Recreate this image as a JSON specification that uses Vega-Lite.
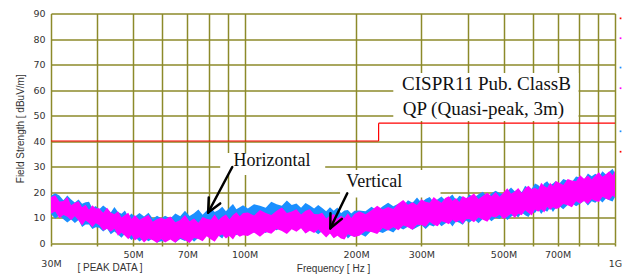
{
"$schema":"https://vega.github.io/schema/vega-lite/v6.json",
"width":564,"height":229.5,
"autosize":{"type":"none"},
"padding":{"left":51,"top":13.5,"right":12,"bottom":33},
"background":"white",
"config":{"view":{"stroke":null},"axis":{"labelFont":"DejaVu Sans","labelFontSize":9.5,"labelColor":"#333333","titleFont":"Liberation Sans","titleFontSize":10,"titleFontWeight":"normal","titleColor":"#333333"}},
"datasets":{
"boxes":[{"f":252,"f2":797,"v":66.7,"v2":47.8},{"f":85.9,"f2":165,"v":35.3,"v2":26.7},{"f":181,"f2":338,"v":28.6,"v2":17.8}],
"limit":[{"f":30,"f2":230,"v":40,"v2":40},{"f":230,"f2":230,"v":40,"v2":47},{"f":230,"f2":1000,"v":47,"v2":47}],
"arrows":[{"f":92.6,"f2":79.7,"v":29.8,"v2":11.96},{"f":85.9,"f2":79.7,"v":15.53,"v2":11.96},{"f":80.0,"f2":79.7,"v":17.84,"v2":11.96},{"f":189.3,"f2":170.3,"v":19.5,"v2":5.76},{"f":183.0,"f2":170.3,"v":9.45,"v2":5.76},{"f":170.5,"f2":170.3,"v":11.65,"v2":5.76}],
"labels18":[{"t":"Horizontal","f":118.5,"v":32.2},{"t":"Vertical","f":223.9,"v":23.9}],
"labels19":[{"t":"CISPR11 Pub. ClassB","f":449.8,"v":62.4},{"t":"QP (Quasi-peak, 3m)","f":441.3,"v":52.5}],
"notes":[{"t":"[ PEAK DATA ]","f":43.3,"v":-9.8}],
"dots":[{"s":"L","f":1035,"v":88.1},{"s":"V","f":1035,"v":80.3},{"s":"H","f":1035,"v":68.8},{"s":"V","f":1035,"v":60.7},{"s":"H","f":1035,"v":43.8},{"s":"L","f":1035,"v":35.8}],
"H":[
{"f":30,"v":11.4,"v2":18.5},{"f":30.8,"v":9.5,"v2":19.5},{"f":31.6,"v":10.8,"v2":18.6},{"f":32.4,"v":9.3,"v2":16.8},{"f":33.2,"v":8,"v2":18.6},{"f":34,"v":9.2,"v2":17.1},{"f":34.8,"v":7.8,"v2":15.9},{"f":35.6,"v":9,"v2":17.1},{"f":36.4,"v":6.3,"v2":15.4},{"f":37.2,"v":7.3,"v2":16},{"f":38,"v":7.3,"v2":16.2},{"f":38.8,"v":5.5,"v2":13.6},{"f":39.6,"v":6.2,"v2":14.5},
{"f":40.5,"v":6,"v2":13.2},{"f":41.5,"v":4.5,"v2":14.7},{"f":42.5,"v":5.7,"v2":13.5},{"f":43.5,"v":3.4,"v2":12},{"f":44.5,"v":4.5,"v2":14.1},{"f":45.5,"v":3.3,"v2":12.2},{"f":46.5,"v":2.1,"v2":11.5},{"f":47.5,"v":3.6,"v2":12.7},{"f":48.5,"v":2.4,"v2":10.3},{"f":49.5,"v":1.2,"v2":11.6},
{"f":50.5,"v":2.5,"v2":10.3},{"f":52,"v":0.6,"v2":11.8},{"f":53.5,"v":1.9,"v2":10.4},{"f":55,"v":0.7,"v2":11.9},{"f":56.5,"v":1.9,"v2":9.5},{"f":58,"v":0.2,"v2":10.7},{"f":59.5,"v":0.7,"v2":9.7},
{"f":61,"v":0.6,"v2":10.7},{"f":63,"v":1.7,"v2":9.6},{"f":65,"v":0.2,"v2":11.6},{"f":67,"v":1.6,"v2":10.5},{"f":69,"v":0.8,"v2":12.6},{"f":71,"v":2.4,"v2":10.6},{"f":73,"v":0.5,"v2":11.7},{"f":75,"v":2.1,"v2":13.1},{"f":77,"v":1.7,"v2":11.1},{"f":79,"v":3.3,"v2":12.7},{"f":81,"v":1.5,"v2":14},{"f":83,"v":3.2,"v2":12.2},{"f":85,"v":2.8,"v2":12.9},{"f":87,"v":1.8,"v2":14.2},{"f":89,"v":4.1,"v2":12.5},{"f":91,"v":3,"v2":13.9},{"f":93,"v":4,"v2":15.3},{"f":95,"v":3,"v2":13.2},{"f":97,"v":4.7,"v2":14},{"f":99,"v":4.2,"v2":14.8},
{"f":102,"v":5.4,"v2":13.5},{"f":106,"v":4,"v2":15.2},{"f":110,"v":5.2,"v2":14.6},{"f":114,"v":3.9,"v2":13.8},{"f":118,"v":5.6,"v2":16.2},{"f":122,"v":5,"v2":15.2},{"f":126,"v":6.2,"v2":14.6},{"f":130,"v":4.5,"v2":16.7},{"f":134,"v":5.6,"v2":14.9},{"f":138,"v":4.8,"v2":15.5},{"f":142,"v":6.2,"v2":13.8},{"f":146,"v":3.8,"v2":15.7},{"f":150,"v":5.3,"v2":14.7},{"f":154,"v":4.6,"v2":13.5},{"f":158,"v":3.4,"v2":14.9},{"f":162,"v":4.7,"v2":13.7},{"f":166,"v":3.2,"v2":12.5},{"f":170,"v":3.9,"v2":14},{"f":174,"v":2.1,"v2":12.6},{"f":178,"v":3.5,"v2":13.9},{"f":182,"v":2.5,"v2":11.7},{"f":186,"v":3.7,"v2":12.7},{"f":190,"v":1.8,"v2":12.9},{"f":194,"v":3,"v2":11.6},{"f":198,"v":2.4,"v2":12.6},
{"f":204,"v":3.7,"v2":12.7},{"f":212,"v":2.5,"v2":12.5},{"f":220,"v":4.8,"v2":14.2},{"f":228,"v":4.7,"v2":12.7},{"f":236,"v":3.9,"v2":14.4},{"f":244,"v":5.1,"v2":15.8},{"f":252,"v":4.1,"v2":14.4},{"f":260,"v":6.3,"v2":15.4},{"f":268,"v":5.3,"v2":14.4},{"f":276,"v":6.4,"v2":16.8},{"f":284,"v":5.2,"v2":15.8},{"f":292,"v":6.2,"v2":17.8},{"f":300,"v":7.1,"v2":15.8},{"f":308,"v":5.5,"v2":17.3},{"f":316,"v":7.1,"v2":18},{"f":324,"v":6.5,"v2":16},{"f":332,"v":8.1,"v2":17.2},{"f":340,"v":6.6,"v2":18.2},{"f":348,"v":7.6,"v2":16.8},{"f":356,"v":8.3,"v2":17.8},{"f":364,"v":6.5,"v2":19},{"f":372,"v":8.4,"v2":16.9},{"f":380,"v":7.9,"v2":18.5},{"f":388,"v":7.2,"v2":17.9},{"f":396,"v":8.8,"v2":17.1},
{"f":404,"v":7.9,"v2":19.1},{"f":416,"v":9.4,"v2":17.7},{"f":428,"v":7.7,"v2":19.1},{"f":440,"v":9.5,"v2":20.1},{"f":452,"v":10,"v2":18},{"f":464,"v":8.5,"v2":19.5},{"f":476,"v":9.9,"v2":20.5},{"f":488,"v":9.4,"v2":19.6},{"f":500,"v":10.9,"v2":19.2},{"f":512,"v":9,"v2":20.3},{"f":524,"v":10.3,"v2":21.8},{"f":536,"v":11.2,"v2":20.3},{"f":548,"v":10,"v2":21.2},{"f":560,"v":12,"v2":19.9},{"f":572,"v":10.9,"v2":22.5},{"f":584,"v":10.2,"v2":21.5},{"f":596,"v":12.3,"v2":21.3},{"f":608,"v":11.8,"v2":23.3},{"f":620,"v":13.3,"v2":22.7},{"f":632,"v":11.4,"v2":21.6},{"f":644,"v":12.9,"v2":23.4},{"f":656,"v":12.3,"v2":24.2},{"f":668,"v":13.9,"v2":22.6},{"f":680,"v":12.2,"v2":23.3},{"f":692,"v":13.8,"v2":24.3},
{"f":705,"v":14.6,"v2":23},{"f":725,"v":13.2,"v2":25.1},{"f":745,"v":14.9,"v2":24.4},{"f":765,"v":15.6,"v2":23.9},{"f":785,"v":14.4,"v2":26.1},{"f":805,"v":15.4,"v2":25.7},{"f":825,"v":16.6,"v2":24.8},{"f":845,"v":14.7,"v2":27.3},{"f":865,"v":16.4,"v2":26.2},{"f":885,"v":15.8,"v2":27.2},{"f":905,"v":17.2,"v2":26.1},{"f":925,"v":15.9,"v2":28.1},{"f":945,"v":17.5,"v2":26.9},{"f":965,"v":16.8,"v2":27.9},{"f":985,"v":16.3,"v2":29.1},{"f":1000,"v":18,"v2":27.3}
],
"V":[
{"f":30,"v":11.5,"v2":18},{"f":30.8,"v":12.4,"v2":18.7},{"f":31.6,"v":9.7,"v2":16.3},{"f":32.4,"v":11,"v2":16.5},{"f":33.2,"v":10.3,"v2":18},{"f":34,"v":8.9,"v2":14.8},{"f":34.8,"v":10.5,"v2":15.8},{"f":35.6,"v":8.8,"v2":16.4},{"f":36.4,"v":6.9,"v2":14},{"f":37.2,"v":8.8,"v2":15},{"f":38,"v":7.8,"v2":13},{"f":38.8,"v":6.2,"v2":14.8},{"f":39.6,"v":7.7,"v2":13.5},
{"f":40.5,"v":7,"v2":13.6},{"f":41.5,"v":4.9,"v2":11.9},{"f":42.5,"v":5.6,"v2":13.8},{"f":43.5,"v":4.4,"v2":12},{"f":44.5,"v":5.6,"v2":11.3},{"f":45.5,"v":2.8,"v2":12.5},{"f":46.5,"v":4,"v2":10},{"f":47.5,"v":2.8,"v2":11},{"f":48.5,"v":1.5,"v2":11.9},{"f":49.5,"v":3.1,"v2":9.4},
{"f":50.5,"v":1,"v2":11},{"f":52,"v":2.3,"v2":9.1},{"f":53.5,"v":0.2,"v2":10.1},{"f":55,"v":1.8,"v2":11},{"f":56.5,"v":1.1,"v2":8.3},{"f":58,"v":0,"v2":9.4},{"f":59.5,"v":1.6,"v2":9.9},
{"f":61,"v":0.2,"v2":9.3},{"f":63,"v":1.4,"v2":10.4},{"f":65,"v":0.1,"v2":8.1},{"f":67,"v":2,"v2":9},{"f":69,"v":1.1,"v2":11},{"f":71,"v":0,"v2":8.5},{"f":73,"v":2,"v2":9.6},{"f":75,"v":1.6,"v2":7.9},{"f":77,"v":0.7,"v2":10.2},{"f":79,"v":2.6,"v2":9.5},{"f":81,"v":1.5,"v2":9.1},{"f":83,"v":0.5,"v2":11.2},{"f":85,"v":2.6,"v2":9},{"f":87,"v":3.3,"v2":10.3},{"f":89,"v":1.8,"v2":11.2},{"f":91,"v":2.7,"v2":9.3},{"f":93,"v":1.4,"v2":11},{"f":95,"v":3.4,"v2":12.1},{"f":97,"v":2.5,"v2":10.5},{"f":99,"v":3,"v2":11.8},
{"f":102,"v":2.7,"v2":12},{"f":106,"v":4.1,"v2":10.8},{"f":110,"v":2.5,"v2":12.9},{"f":114,"v":4.3,"v2":11.8},{"f":118,"v":3.6,"v2":11},{"f":122,"v":5.5,"v2":12.6},{"f":126,"v":4.7,"v2":13.9},{"f":130,"v":3.5,"v2":11.8},{"f":134,"v":5.4,"v2":12.4},{"f":138,"v":4.4,"v2":13.2},{"f":142,"v":5.8,"v2":11.2},{"f":146,"v":3.7,"v2":12.6},{"f":150,"v":4.8,"v2":13.2},{"f":154,"v":3.9,"v2":11.4},{"f":158,"v":5.3,"v2":11.3},{"f":162,"v":3.7,"v2":11.9},{"f":166,"v":2.2,"v2":9.6},{"f":170,"v":3.7,"v2":10.7},{"f":174,"v":1.9,"v2":11.4},{"f":178,"v":2.8,"v2":9.5},{"f":182,"v":1.8,"v2":10.7},{"f":186,"v":1.4,"v2":9.8},{"f":190,"v":3.4,"v2":11.7},{"f":194,"v":2.8,"v2":9.8},{"f":198,"v":2.4,"v2":11.4},
{"f":204,"v":2.8,"v2":12.5},{"f":212,"v":4.6,"v2":11.3},{"f":220,"v":4.3,"v2":12.8},{"f":228,"v":3.5,"v2":14.6},{"f":236,"v":5.9,"v2":13.1},{"f":244,"v":4.9,"v2":14.1},{"f":252,"v":6.2,"v2":13.3},{"f":260,"v":5,"v2":15.5},{"f":268,"v":6.9,"v2":16.9},{"f":276,"v":6.2,"v2":15},{"f":284,"v":5.2,"v2":16},{"f":292,"v":7.2,"v2":14.9},{"f":300,"v":7.1,"v2":17.2},{"f":308,"v":6.4,"v2":16.2},{"f":316,"v":8.2,"v2":15.8},{"f":324,"v":7.2,"v2":18},{"f":332,"v":6.6,"v2":16.8},{"f":340,"v":8.5,"v2":15.8},{"f":348,"v":8,"v2":17.6},{"f":356,"v":7.4,"v2":18.3},{"f":364,"v":9.1,"v2":16.6},{"f":372,"v":8,"v2":17.6},{"f":380,"v":8.9,"v2":16.1},{"f":388,"v":7.5,"v2":18.4},{"f":396,"v":9.3,"v2":17.6},
{"f":404,"v":9.4,"v2":18},{"f":416,"v":8.1,"v2":19.4},{"f":428,"v":10,"v2":17.3},{"f":440,"v":9.1,"v2":18.5},{"f":452,"v":8.3,"v2":19.7},{"f":464,"v":10.4,"v2":18.3},{"f":476,"v":10,"v2":20},{"f":488,"v":11.1,"v2":18.1},{"f":500,"v":9.4,"v2":19.8},{"f":512,"v":10.3,"v2":21.5},{"f":524,"v":11.5,"v2":19.3},{"f":536,"v":9.8,"v2":20.2},{"f":548,"v":11.5,"v2":21.6},{"f":560,"v":10.9,"v2":19.6},{"f":572,"v":12.8,"v2":21.5},{"f":584,"v":11.8,"v2":22.5},{"f":596,"v":10.8,"v2":21.1},{"f":608,"v":13.1,"v2":21.7},{"f":620,"v":12.3,"v2":20.9},{"f":632,"v":13.2,"v2":23.6},{"f":644,"v":12,"v2":22.4},{"f":656,"v":14.2,"v2":21.7},{"f":668,"v":12.9,"v2":23.6},{"f":680,"v":14,"v2":22.4},{"f":692,"v":13.3,"v2":24.3},
{"f":705,"v":13.6,"v2":23.7},{"f":725,"v":15.3,"v2":22.7},{"f":745,"v":14.8,"v2":25.1},{"f":765,"v":14,"v2":24.5},{"f":785,"v":16.4,"v2":24.2},{"f":805,"v":15.4,"v2":26.6},{"f":825,"v":16.5,"v2":25.2},{"f":845,"v":15.3,"v2":26.5},{"f":865,"v":17.2,"v2":24.9},{"f":885,"v":16.5,"v2":26.5},{"f":905,"v":16.1,"v2":27.7},{"f":925,"v":18.1,"v2":26},{"f":945,"v":17.4,"v2":27},{"f":965,"v":16.9,"v2":28.1},{"f":985,"v":18.5,"v2":26.6},{"f":1000,"v":17.8,"v2":28.3}
]
},
"encoding":{
 "x":{"field":"f","type":"quantitative","scale":{"type":"log","domain":[30,1000],"nice":false},
  "axis":{"values":[30,40,50,60,70,80,90,100,200,300,400,500,600,700,800,900,1000],
   "labelExpr":"datum.value==1000 ? '1G' : (indexof([30,50,70,100,200,300,500,700], datum.value) >= 0 ? datum.value + 'M' : '')",
   "grid":true,"gridColor":"#8c8a2a","gridWidth":1.5,"domain":false,"ticks":true,"tickSize":3,"tickColor":"#8c8a2a","tickWidth":1.5,
   "labelPadding":{"expr":"datum.value==30 || datum.value==1000 ? 12 : 3"},
   "labelOverlap":false,"labelFlush":false,"labelBound":false,
   "title":"Frequency [ Hz ]","titleY":25,"titleBaseline":"middle"}},
 "y":{"field":"v","type":"quantitative","scale":{"domain":[0,90],"nice":false},
  "axis":{"values":[0,10,20,30,40,50,60,70,80,90],"grid":true,"gridColor":"#8c8a2a","gridWidth":1.5,"domain":false,"ticks":false,"labelPadding":6,"labelOverlap":false,
   "title":"Field Strength [ dBuV/m]","titleX":-31,"titleBaseline":"middle"}}
},
"layer":[
{"data":{"name":"boxes"},"mark":{"type":"rect","fill":"white"},
 "encoding":{"x2":{"field":"f2"},"y2":{"field":"v2"}}},
{"data":{"name":"limit"},"mark":{"type":"rule","color":"#ff0000","strokeWidth":1.2},
 "encoding":{"x2":{"field":"f2"},"y2":{"field":"v2"}}},
{"data":{"name":"H"},"mark":{"type":"area","color":"#1a8fff","opacity":1},
 "encoding":{"y2":{"field":"v2"}}},
{"data":{"name":"V"},"mark":{"type":"area","color":"#ff00ff","opacity":1},
 "encoding":{"y2":{"field":"v2"}}},
{"data":{"name":"arrows"},"mark":{"type":"rule","color":"#000000","strokeWidth":2.5,"strokeCap":"round"},
 "encoding":{"x2":{"field":"f2"},"y2":{"field":"v2"}}},
{"data":{"name":"labels18"},"mark":{"type":"text","font":"Liberation Serif","fontSize":18,"color":"#111111","baseline":"middle","align":"center"},
 "encoding":{"text":{"field":"t"}}},
{"data":{"name":"labels19"},"mark":{"type":"text","font":"Liberation Serif","fontSize":19,"color":"#111111","baseline":"middle","align":"center"},
 "encoding":{"text":{"field":"t"}}},
{"data":{"name":"notes"},"mark":{"type":"text","font":"Liberation Sans","fontSize":10,"color":"#333333","baseline":"middle","align":"center"},
 "encoding":{"text":{"field":"t"}}},
{"data":{"name":"dots"},"mark":{"type":"square","size":3,"opacity":1},
 "encoding":{"color":{"field":"s","type":"nominal","scale":{"domain":["H","V","L"],"range":["#1a8fff","#ff00ff","#ff0000"]},"legend":null}}}
]
}
